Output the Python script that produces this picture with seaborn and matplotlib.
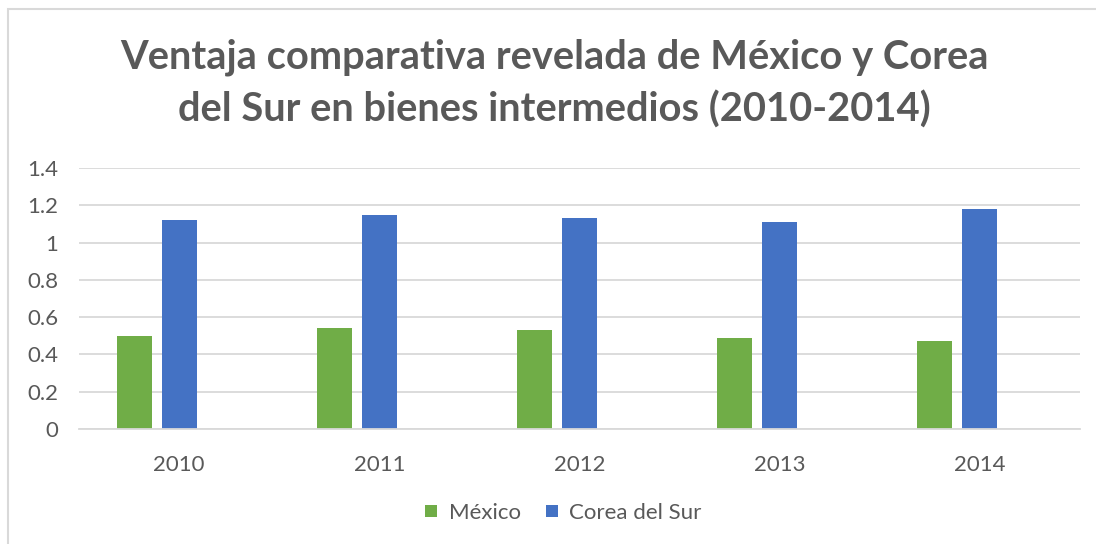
import matplotlib
matplotlib.use("Agg")
import matplotlib.pyplot as plt
import seaborn as sns
import pandas as pd
from matplotlib.lines import Line2D
from matplotlib.patches import Rectangle

years = ["2010", "2011", "2012", "2013", "2014"]
mexico = [0.50, 0.54, 0.53, 0.49, 0.47]
corea = [1.12, 1.15, 1.13, 1.11, 1.18]
series_names = ["México", "Corea del Sur"]
title_lines = ["Ventaja comparativa revelada de México y Corea",
               "del Sur en bienes intermedios (2010-2014)"]
yticks = [0, 0.2, 0.4, 0.6, 0.8, 1.0, 1.2, 1.4]
ytick_labels = ["0", "0.2", "0.4", "0.6", "0.8", "1", "1.2", "1.4"]

GREEN = "#70AD47"
BLUE = "#4472C4"
TEXT = "#595959"
GRID = "#D9D9D9"

df = pd.DataFrame({
    "Año": years * 2,
    "Serie": [series_names[0]] * len(years) + [series_names[1]] * len(years),
    "Valor": mexico + corea,
})

sns.set_theme(style="white")
plt.rcParams["font.family"] = ["Lato", "DejaVu Sans"]

W, H = 1096, 544
fig = plt.figure(figsize=(W / 100, H / 100), dpi=100)
ax = fig.add_axes([79 / W, 1 - 429 / H, (1080 - 79) / W, (429 - 168) / H])

hue_order = series_names + ["_vacio"]
palette = {series_names[0]: GREEN, series_names[1]: BLUE, "_vacio": "white"}
sns.barplot(data=df, x="Año", y="Valor", hue="Serie", hue_order=hue_order,
            palette=palette, width=0.675, gap=0.222, saturation=1,
            legend=False, ax=ax, linewidth=0, errorbar=None)

ax.set_xlim(-0.5, len(years) - 0.5)
ax.set_ylim(0, 1.4)
ax.set_yticks(yticks)
ax.set_yticklabels(ytick_labels)
ax.yaxis.grid(True, color=GRID, linewidth=1.3)
ax.set_axisbelow(True)
for s in ["top", "right", "left"]:
    ax.spines[s].set_visible(False)
ax.spines["bottom"].set_color(GRID)
ax.spines["bottom"].set_linewidth(1.3)
ax.set_xlabel("")
ax.set_ylabel("")
ax.tick_params(axis="both", length=0, labelsize=16, labelcolor=TEXT)
ax.tick_params(axis="y", pad=15)
ax.tick_params(axis="x", pad=19)

fig.text(554.5 / W, 1 - 68 / H, title_lines[0], ha="center", va="baseline",
         fontsize=28.7, fontweight="bold", color=TEXT)
fig.text(554.5 / W, 1 - 122 / H, title_lines[1], ha="center", va="baseline",
         fontsize=28.7, fontweight="bold", color=TEXT)

handles = [Line2D([0], [0], marker="s", linestyle="none", markersize=8.6,
                  markerfacecolor=c, markeredgewidth=0)
           for c in (GREEN, BLUE)]
fig.legend(handles, series_names, loc="center", bbox_to_anchor=(563 / W, 1 - 513 / H),
           ncol=2, frameon=False, fontsize=16, labelcolor=TEXT,
           handlelength=0.6, handletextpad=0.5, columnspacing=1.1)

fig.patches.append(Rectangle((8 / W, -0.1), 1.2, (544 - 9) / H + 0.1,
                             transform=fig.transFigure, fill=False,
                             edgecolor="#D9D9D9", linewidth=1.5))

fig.savefig("out.png", dpi=100)
